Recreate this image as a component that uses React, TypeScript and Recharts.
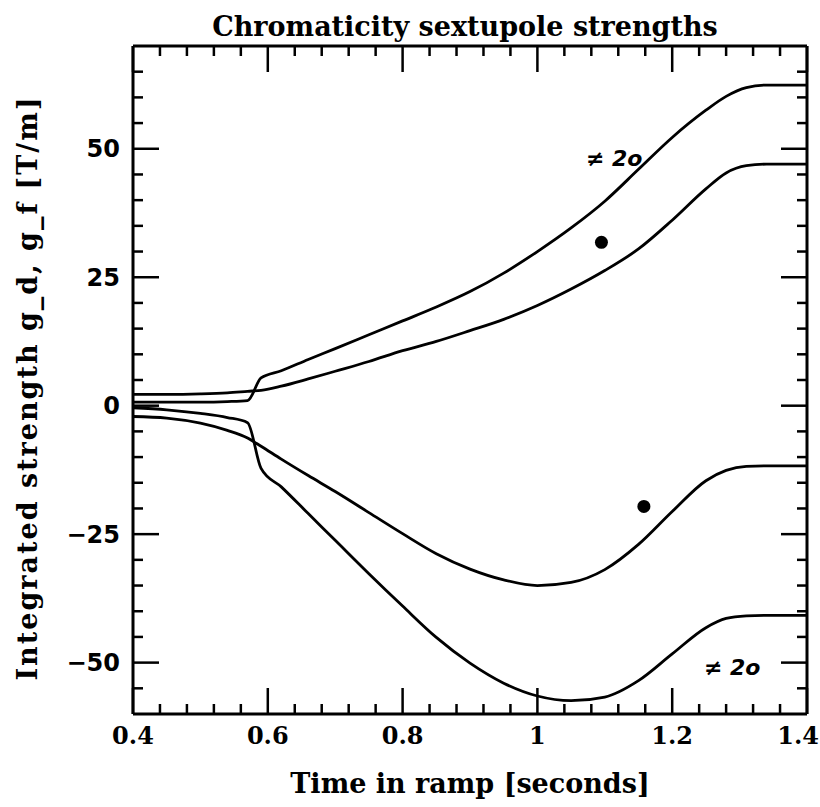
import React from "react"
import { LineChart, Line, XAxis, YAxis, ReferenceDot } from "recharts"

// time in ramp [s]
const time = [0.4, 0.45, 0.5, 0.54, 0.57, 0.59, 0.62, 0.66, 0.7, 0.75, 0.8, 0.85, 0.9, 0.95, 1.0, 1.05, 1.1, 1.15, 1.2, 1.25, 1.28, 1.31, 1.34, 1.4]

// integrated strengths [T/m]
const upperKinked = [0.7, 0.7, 0.7, 0.8, 1.0, 5.4, 6.8, 9.0, 11.1, 13.8, 16.5, 19.2, 22.2, 25.8, 30.0, 34.6, 39.8, 46.0, 52.2, 57.5, 60.2, 61.9, 62.4, 62.4]
const upperSmooth = [2.2, 2.2, 2.3, 2.5, 2.8, 3.0, 3.8, 5.2, 6.7, 8.6, 10.7, 12.5, 14.6, 16.8, 19.5, 22.7, 26.3, 30.5, 36.1, 42.2, 45.3, 46.7, 47.0, 47.0]
const lowerSmooth = [-2.1, -2.4, -3.4, -4.8, -6.3, -7.9, -10.4, -13.6, -16.7, -20.8, -24.9, -28.8, -31.8, -33.9, -35.0, -34.4, -31.9, -27.0, -20.6, -14.6, -12.6, -11.8, -11.7, -11.7]
const lowerKinked = [-0.4, -0.8, -1.5, -2.3, -3.3, -12.2, -15.8, -21.0, -26.2, -32.7, -39.0, -45.1, -50.1, -54.0, -56.5, -57.4, -56.7, -53.5, -48.3, -43.2, -41.4, -40.9, -40.8, -40.8]

const xMajor = [0.4, 0.6, 0.8, 1, 1.2, 1.4]
const xMinor = [0.44, 0.48, 0.52, 0.56, 0.64, 0.68, 0.72, 0.76, 0.84, 0.88, 0.92, 0.96, 1.04, 1.08, 1.12, 1.16, 1.24, 1.28, 1.32, 1.36]
const yMajor = [-50, -25, 0, 25, 50]
const yMinor = [-55, -45, -40, -35, -30, -20, -15, -10, -5, 5, 10, 15, 20, 30, 35, 40, 45, 55, 60, 65]

// hand-written marks on the scan
const noteX = [1.114, 1.289]
const noteY = [48.1, -50.8]
const noteText = ["≠ 2o", "≠ 2o"]
const blobX = [1.095, 1.158]
const blobY = [31.8, -19.6]

const data = time.map((t, i) => ({
  t,
  a: upperKinked[i],
  b: upperSmooth[i],
  c: lowerSmooth[i],
  d: lowerKinked[i],
}))

const serif = "DejaVu Serif"
const frame = { stroke: "#000", strokeWidth: 3 }
const tickLn = { stroke: "#000", strokeWidth: 2.5 }
const xDom: [number, number] = [0.4, 1.4]
const yDom: [number, number] = [-60, 70]

const emptyTick = () => <g />
const fmtY = (v: number) => (v < 0 ? `\u2212${-v}` : `${v}`)

const XTick = (props: any) => {
  const { x, y, payload } = props
  const last = payload.value === xMajor[xMajor.length - 1]
  return (
    <text
      x={last ? x + 12 : x}
      y={y}
      dy="0.71em"
      textAnchor={last ? "end" : "middle"}
      fill="#000"
      fontSize={24}
      fontFamily={serif}
      fontWeight="bold"
    >
      {payload.value}
    </text>
  )
}

// axes that only draw the frame and inward tick marks (major first so it sits on the edge)
const frameAxes = [
  { x: "bMaj", y: "lMaj", xo: "bottom", yo: "left", xt: xMajor, yt: yMajor, size: 26, line: true },
  { x: "bMin", y: "lMin", xo: "bottom", yo: "left", xt: xMinor, yt: yMinor, size: 9, line: false },
  { x: "tMaj", y: "rMaj", xo: "top", yo: "right", xt: xMajor, yt: yMajor, size: 26, line: true },
  { x: "tMin", y: "rMin", xo: "top", yo: "right", xt: xMinor, yt: yMinor, size: 9, line: false },
]

const App = () => {
  return (
    <div style={{ position: "fixed", left: 0, top: 0, width: 820, height: 807, background: "#fff" }}>
      <div
        style={{
          position: "absolute",
          left: 128,
          width: 674,
          top: 13,
          textAlign: "center",
          fontFamily: serif,
          fontWeight: "bold",
          fontSize: 27,
          lineHeight: "27px",
          color: "#000",
        }}
      >
        Chromaticity sextupole strengths
      </div>
      <LineChart width={820} height={807} data={data} margin={{ top: 46, right: 13, left: 0, bottom: 0 }}>
        <XAxis
          xAxisId="x"
          dataKey="t"
          type="number"
          domain={xDom}
          allowDataOverflow
          ticks={xMajor}
          interval={0}
          height={93}
          tickSize={0}
          tickMargin={13}
          tickLine={false}
          axisLine={false}
          tick={<XTick />}
          label={{
            value: "Time in ramp [seconds]",
            position: "insideBottom",
            offset: 14,
            fill: "#000",
            fontSize: 27,
            fontFamily: serif,
            fontWeight: "bold",
          }}
        />
        <YAxis
          yAxisId="y"
          type="number"
          domain={yDom}
          allowDataOverflow
          ticks={yMajor}
          interval={0}
          width={133}
          tickSize={0}
          tickMargin={13}
          tickLine={false}
          axisLine={false}
          tickFormatter={fmtY}
          tick={{ fill: "#000", fontSize: 24, fontFamily: "DejaVu Sans", fontWeight: "bold" }}
          label={{
            value: "Integrated strength g_d, g_f [T/m]",
            angle: -90,
            position: "insideLeft",
            offset: 27,
            dy: 8,
            fill: "#000",
            fontSize: 27,
            fontFamily: serif,
            fontWeight: "bold",
            style: { textAnchor: "middle", letterSpacing: 2 },
          }}
        />

        {frameAxes.map((f) => (
          <XAxis
            key={f.x}
            xAxisId={f.x}
            dataKey="t"
            orientation={f.xo as any}
            mirror
            height={1}
            type="number"
            domain={xDom}
            allowDataOverflow
            ticks={f.xt}
            interval={0}
            tickSize={f.size}
            tick={emptyTick}
            tickLine={tickLn}
            axisLine={f.line ? frame : false}
          />
        ))}
        {frameAxes.map((f) => (
          <YAxis
            key={f.y}
            yAxisId={f.y}
            orientation={f.yo as any}
            mirror
            width={1}
            type="number"
            domain={yDom}
            allowDataOverflow
            ticks={f.yt}
            interval={0}
            tickSize={f.size}
            tick={emptyTick}
            tickLine={tickLn}
            axisLine={f.line ? frame : false}
          />
        ))}
        {frameAxes.map((f) => (
          <Line
            key={`h${f.x}`}
            xAxisId={f.x}
            yAxisId={f.y}
            dataKey="a"
            stroke="none"
            dot={false}
            activeDot={false}
            legendType="none"
            isAnimationActive={false}
          />
        ))}

        <Line xAxisId="x" yAxisId="y" type="monotone" dataKey="a" stroke="#000" strokeWidth={2.8} dot={false} isAnimationActive={false} />
        <Line xAxisId="x" yAxisId="y" type="monotone" dataKey="b" stroke="#000" strokeWidth={2.8} dot={false} isAnimationActive={false} />
        <Line xAxisId="x" yAxisId="y" type="monotone" dataKey="c" stroke="#000" strokeWidth={2.8} dot={false} isAnimationActive={false} />
        <Line xAxisId="x" yAxisId="y" type="monotone" dataKey="d" stroke="#000" strokeWidth={2.8} dot={false} isAnimationActive={false} />

        {blobX.map((x, i) => (
          <ReferenceDot key={`blob${i}`} xAxisId="x" yAxisId="y" x={x} y={blobY[i]} r={6.5} fill="#000" stroke="none" />
        ))}
        {noteX.map((x, i) => (
          <ReferenceDot
            key={`note${i}`}
            xAxisId="x"
            yAxisId="y"
            x={x}
            y={noteY[i]}
            r={0}
            stroke="none"
            label={{
              value: noteText[i],
              position: "center",
              fill: "#000",
              fontSize: 22,
              fontFamily: "DejaVu Sans",
              fontWeight: "bold",
              fontStyle: "italic",
            }}
          />
        ))}
      </LineChart>
    </div>
  )
}

export default App
